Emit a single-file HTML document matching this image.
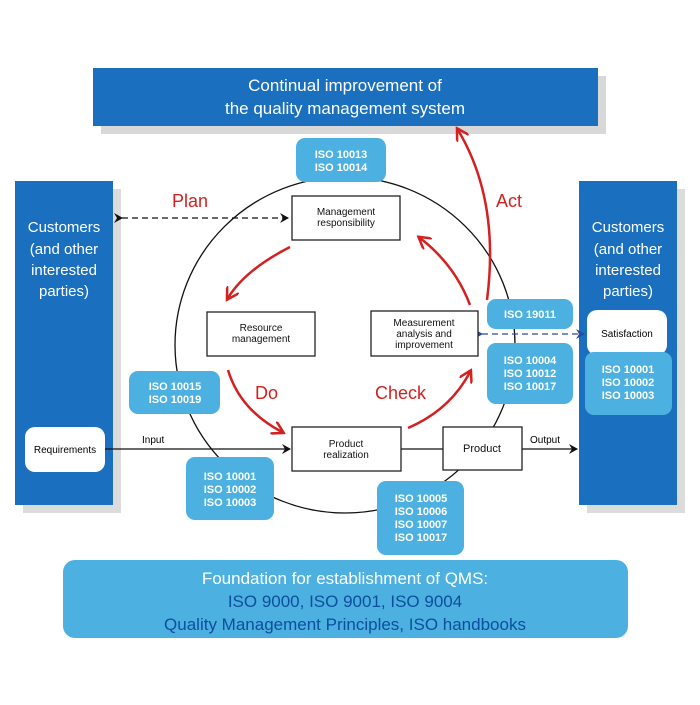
<!DOCTYPE html>
<html><head><meta charset="utf-8"><style>
body{margin:0;background:#fff;width:700px;height:700px;overflow:hidden;font-family:"Liberation Sans",sans-serif}
</style></head><body>
<svg width="700" height="700" viewBox="0 0 700 700" xmlns="http://www.w3.org/2000/svg" font-family="Liberation Sans, sans-serif">
<defs>
<marker id="ab" markerWidth="10" markerHeight="10" refX="8" refY="5" orient="auto" markerUnits="userSpaceOnUse"><path d="M0,0 L9,5 L0,10 L3,5Z" fill="#111"/></marker>
<marker id="ar" markerWidth="14" markerHeight="14" refX="10" refY="7" orient="auto" markerUnits="userSpaceOnUse"><path d="M0,0 L12,7 L0,14" fill="none" stroke="#d42020" stroke-width="2.5"/></marker>
<marker id="ablue" markerWidth="10" markerHeight="10" refX="8" refY="5" orient="auto" markerUnits="userSpaceOnUse"><path d="M0,0 L9,5 L0,10 L3,5Z" fill="#2a4a9a"/></marker>
</defs>
<!-- top banner -->
<rect x="101" y="76" width="505" height="58" fill="#d8d8d8"/>
<rect x="93" y="68" width="505" height="58" fill="#1a6fbe"/>
<text x="345" y="91" fill="#fff" font-size="17" text-anchor="middle">Continual improvement of</text>
<text x="345" y="114" fill="#fff" font-size="17" text-anchor="middle">the quality management system</text>
<!-- side panels -->
<rect x="23" y="189" width="98" height="324" fill="#dcdcdc"/>
<rect x="15" y="181" width="98" height="324" fill="#1a6fbe"/>
<rect x="587" y="189" width="98" height="324" fill="#dcdcdc"/>
<rect x="579" y="181" width="98" height="324" fill="#1a6fbe"/>
<g fill="#fff" font-size="15" text-anchor="middle">
<text x="64" y="232">Customers</text><text x="64" y="254">(and other</text><text x="64" y="275">interested</text><text x="64" y="296">parties)</text>
<text x="628" y="232">Customers</text><text x="628" y="254">(and other</text><text x="628" y="275">interested</text><text x="628" y="296">parties)</text>
</g>
<rect x="25" y="427" width="80" height="45" rx="10" fill="#fff"/>
<text x="65" y="453" font-size="10" text-anchor="middle">Requirements</text>
<rect x="587" y="310" width="80" height="45" rx="10" fill="#fff"/>
<text x="627" y="337" font-size="10" text-anchor="middle">Satisfaction</text>
<rect x="585" y="352" width="87" height="63" rx="9" fill="#4cb0e0"/>
<g fill="#fff" font-size="11" font-weight="bold" text-anchor="middle"><text x="628" y="373">ISO 10001</text><text x="628" y="386">ISO 10002</text><text x="628" y="399">ISO 10003</text></g>
<!-- circle -->
<ellipse cx="345" cy="345" rx="170" ry="168" fill="none" stroke="#111" stroke-width="1.3"/>
<!-- lines -->
<line x1="105" y1="449" x2="290" y2="449" stroke="#111" stroke-width="1.3" marker-end="url(#ab)"/>
<line x1="401" y1="449" x2="443" y2="449" stroke="#111" stroke-width="1.3"/>
<line x1="522" y1="449" x2="577" y2="449" stroke="#111" stroke-width="1.3" marker-end="url(#ab)"/>
<text x="142" y="443" font-size="10">Input</text>
<text x="530" y="443" font-size="10">Output</text>
<line x1="122" y1="218" x2="288" y2="218" stroke="#111" stroke-width="1.3" stroke-dasharray="6,4" marker-start="url(#ab)" marker-end="url(#ab)"/>
<line x1="482" y1="334" x2="584" y2="334" stroke="#2a4a9a" stroke-width="1.3" stroke-dasharray="6,4" marker-start="url(#ablue)" marker-end="url(#ablue)"/>
<!-- process boxes -->
<g fill="#fff" stroke="#222" stroke-width="1.3">
<rect x="292" y="196" width="108" height="44"/>
<rect x="207" y="312" width="108" height="44"/>
<rect x="371" y="311" width="107" height="45"/>
<rect x="292" y="427" width="109" height="44"/>
<rect x="443" y="427" width="79" height="43"/>
</g>
<g font-size="10" text-anchor="middle" fill="#111">
<text x="346" y="215">Management</text><text x="346" y="226">responsibility</text>
<text x="261" y="331">Resource</text><text x="261" y="342">management</text>
<text x="424" y="326">Measurement</text><text x="424" y="337">analysis and</text><text x="424" y="348">improvement</text>
<text x="346" y="447">Product</text><text x="346" y="458">realization</text>
<text x="482" y="452" font-size="11">Product</text>
</g>
<!-- red arrows -->
<g fill="none" stroke="#d42020" stroke-width="2.5">
<path d="M290,247 Q245,270 228,298" marker-end="url(#ar)"/>
<path d="M470,305 Q455,265 420,238" marker-end="url(#ar)"/>
<path d="M228,370 Q240,410 282,432" marker-end="url(#ar)"/>
<path d="M408,428 Q450,410 470,372" marker-end="url(#ar)"/>
<path d="M487,300 Q500,200 458,130" marker-end="url(#ar)"/>
</g>
<g fill="#d42020" font-size="18">
<text x="172" y="207">Plan</text><text x="496" y="207">Act</text>
<text x="255" y="399">Do</text><text x="375" y="399">Check</text>
</g>
<!-- ISO boxes -->
<g fill="#4cb0e0">
<rect x="296" y="138" width="90" height="44" rx="9"/>
<rect x="487" y="299" width="86" height="30" rx="9"/>
<rect x="487" y="343" width="86" height="61" rx="9"/>
<rect x="129" y="371" width="91" height="43" rx="9"/>
<rect x="186" y="457" width="88" height="63" rx="9"/>
<rect x="377" y="481" width="87" height="74" rx="9"/>
</g>
<g fill="#fff" font-size="11" font-weight="bold" text-anchor="middle">
<text x="341" y="158">ISO 10013</text><text x="341" y="171">ISO 10014</text>
<text x="530" y="318">ISO 19011</text>
<text x="530" y="364">ISO 10004</text><text x="530" y="377">ISO 10012</text><text x="530" y="390">ISO 10017</text>
<text x="175" y="390">ISO 10015</text><text x="175" y="403">ISO 10019</text>
<text x="230" y="480">ISO 10001</text><text x="230" y="493">ISO 10002</text><text x="230" y="506">ISO 10003</text>
<text x="421" y="502">ISO 10005</text><text x="421" y="515">ISO 10006</text><text x="421" y="528">ISO 10007</text><text x="421" y="541">ISO 10017</text>
</g>
<!-- foundation -->
<rect x="63" y="560" width="565" height="78" rx="12" fill="#4cb0e0"/>
<text x="345" y="584" fill="#fff" font-size="17" text-anchor="middle">Foundation for establishment of QMS:</text>
<text x="345" y="607" fill="#0d4f9e" font-size="17" text-anchor="middle">ISO 9000, ISO 9001, ISO 9004</text>
<text x="345" y="630" fill="#0d4f9e" font-size="17" text-anchor="middle">Quality Management Principles, ISO handbooks</text>
</svg>
</body></html>
